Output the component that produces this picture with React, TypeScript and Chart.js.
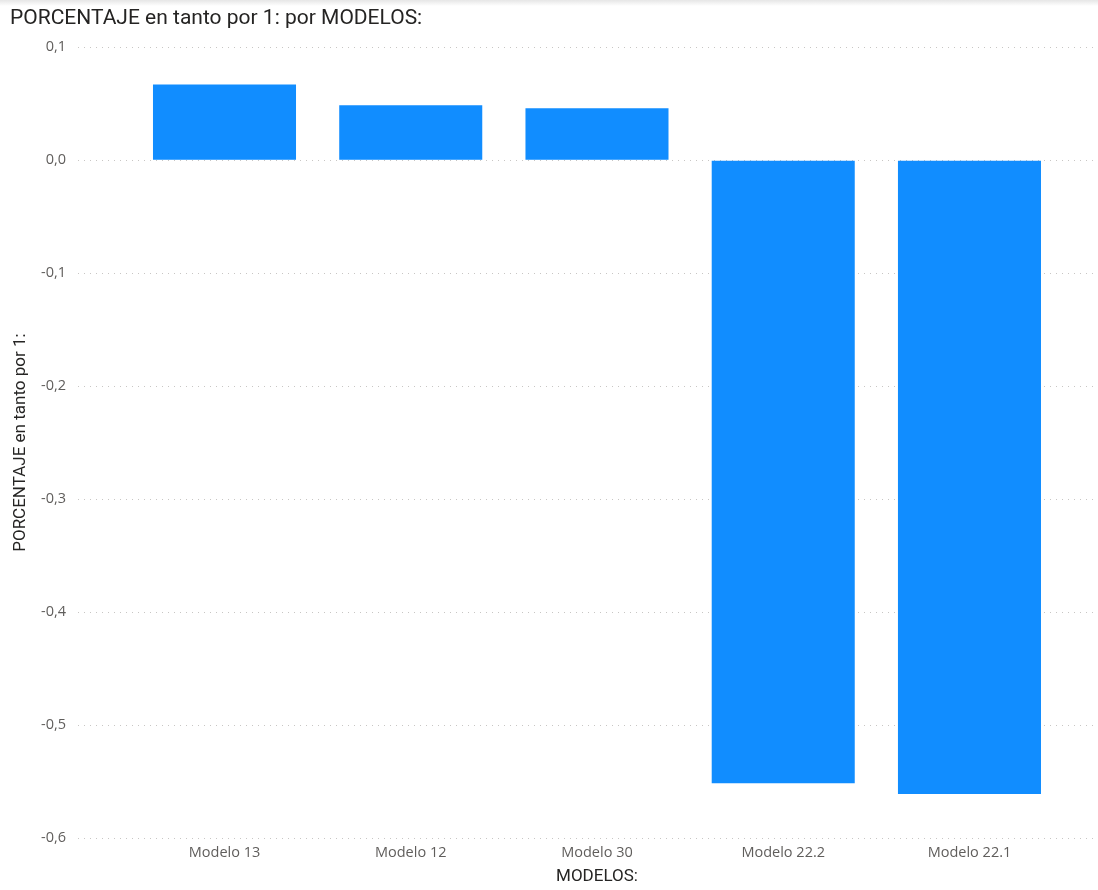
import React, { useEffect, useRef } from "react";
import { Chart, registerables } from "chart.js";

Chart.register(...registerables);

const categories = ["Modelo 13", "Modelo 12", "Modelo 30", "Modelo 22.2", "Modelo 22.1"];
const values = [0.067, 0.0487, 0.046, -0.5515, -0.561];
const yTicks = [0.1, 0.0, -0.1, -0.2, -0.3, -0.4, -0.5, -0.6];

const chartTitle = "PORCENTAJE en tanto por 1: por MODELOS:";
const yTitle = "PORCENTAJE en tanto por 1:";
const xTitle = "MODELOS:";

const fmt = (v: number) => v.toFixed(1).replace(".", ",");

const xTitlePlugin = {
  id: "xTitleCentered",
  afterDraw(chart: any) {
    const x = chart.scales.x;
    const left = x.getPixelForValue(-0.5);
    const right = x.getPixelForValue(categories.length - 0.5);
    const ctx = chart.ctx;
    ctx.save();
    ctx.font = "17px Roboto";
    ctx.fillStyle = "#252423";
    ctx.textAlign = "center";
    ctx.textBaseline = "middle";
    ctx.fillText(xTitle, (left + right) / 2, x.bottom - 13);
    ctx.restore();
  },
};

export default function App() {
  const ref = useRef<HTMLCanvasElement | null>(null);

  useEffect(() => {
    if (!ref.current) return;
    const chart = new Chart(ref.current, {
      type: "bar",
      data: {
        datasets: [
          {
            data: values.map((v, i) => ({ x: i, y: v })),
            backgroundColor: "#118DFF",
            borderWidth: 0,
            barPercentage: 0.768,
            categoryPercentage: 1,
          },
        ],
      },
      plugins: [xTitlePlugin],
      options: {
        animation: false,
        responsive: false,
        layout: { padding: { left: 10, right: 3, top: 0, bottom: 0 } },
        plugins: {
          legend: { display: false },
          tooltip: { enabled: false },
          title: {
            display: true,
            text: chartTitle,
            align: "start",
            color: "#252423",
            font: { family: "Roboto", size: 21, weight: "normal" },
            padding: { top: 6, bottom: 16 },
          },
        },
        scales: {
          x: {
            type: "linear",
            offset: false,
            min: -0.7866,
            max: 4.674,
            afterBuildTicks: (scale: any) => {
              scale.ticks = categories.map((_, i) => ({ value: i }));
            },
            afterFit: (scale: any) => {
              scale.height = 52;
            },
            grid: { display: false, drawTicks: false, offset: false },
            border: { display: false },
            ticks: {
              autoSkip: false,
              maxRotation: 0,
              padding: 6,
              color: "#605E5C",
              font: { family: "Open Sans", size: 14.5 },
              callback: (v: any) => categories[v as number] ?? "",
            },
            title: { display: false },
          },
          y: {
            min: -0.6,
            max: 0.1,
            afterBuildTicks: (scale: any) => {
              scale.ticks = yTicks.map((v) => ({ value: v }));
            },
            afterFit: (scale: any) => {
              scale.width = 68;
            },
            grid: {
              color: "#C8C6C4",
              lineWidth: 1,
              drawTicks: false,
            },
            border: { display: false, dash: [1, 5] },
            ticks: {
              padding: 12,
              color: "#605E5C",
              font: { family: "Open Sans", size: 14.5 },
              callback: (v: any) => fmt(Number(v)),
            },
            title: {
              display: true,
              text: yTitle,
              color: "#252423",
              font: { family: "Roboto", size: 17 },
              padding: { top: 1, bottom: 0 },
            },
          },
        },
      } as any,
    });
    return () => chart.destroy();
  }, []);

  return (
    <div
      style={{
        position: "absolute",
        left: 0,
        top: 0,
        width: 1098,
        height: 890,
        background: "#fff",
      }}
    >
      <div
        style={{
          position: "absolute",
          left: 0,
          top: 0,
          width: 1098,
          height: 6,
          background: "linear-gradient(#e6e6e6, #ffffff)",
        }}
      />
      <canvas ref={ref} width={1098} height={890} style={{ position: "absolute", left: 0, top: 0 }} />
    </div>
  );
}
